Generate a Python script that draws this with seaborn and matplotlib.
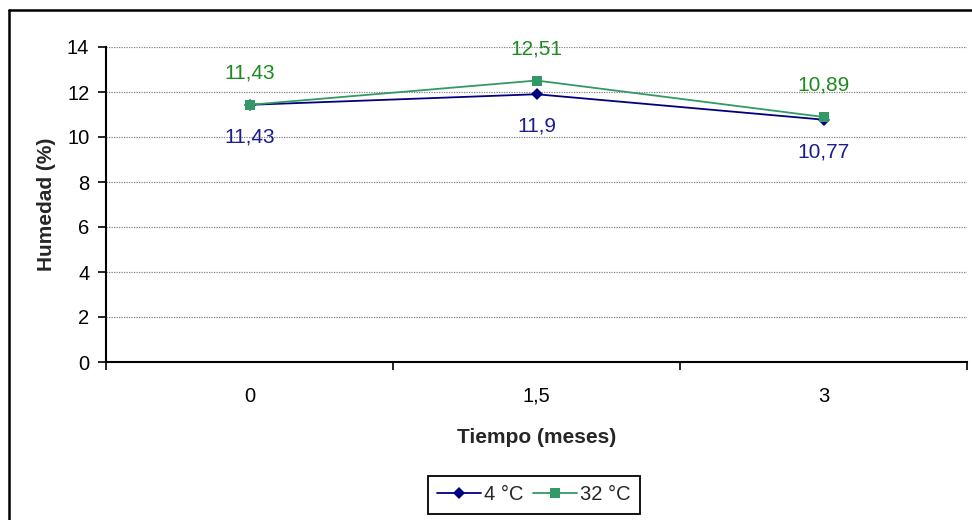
import matplotlib
matplotlib.use("Agg")
import matplotlib.pyplot as plt
from matplotlib.lines import Line2D
from matplotlib.ticker import FixedLocator
import numpy as np
import pandas as pd
import seaborn as sns

# Data
tiempo_labels = ["0", "1,5", "3"]
humedad_4c = [11.43, 11.90, 10.77]
humedad_32c = [11.43, 12.51, 10.89]
series_names = ["4 °C", "32 °C"]
y_ticks = [0, 2, 4, 6, 8, 10, 12, 14]

line_colors = {"4 °C": "#000080", "32 °C": "#339966"}
label_colors = {"4 °C": "#1c1c8e", "32 °C": "#1f8a1f"}

pos = np.arange(len(tiempo_labels))
df = pd.DataFrame({
    "pos": np.concatenate([pos, pos]),
    "humedad": humedad_4c + humedad_32c,
    "serie": [series_names[0]] * len(pos) + [series_names[1]] * len(pos),
})

sns.set_theme(style="white")
plt.rcParams["font.family"] = ["Liberation Sans", "DejaVu Sans"]

fig = plt.figure(figsize=(9.72, 5.2), dpi=100)
ax = fig.add_axes([106 / 972, 1 - 362 / 520, (967 - 106) / 972, (362 - 47) / 520])

sns.lineplot(
    data=df, x="pos", y="humedad", hue="serie", style="serie",
    hue_order=series_names, style_order=series_names,
    palette=line_colors, markers={"4 °C": "D", "32 °C": "s"}, dashes=False,
    markersize=7, linewidth=1.3, markeredgewidth=0, ax=ax, legend=False,
)
# slightly smaller diamond for the 4 °C series
ax.lines[0].set_markersize(6.5)
ax.lines[1].set_markersize(7.5)

# Value labels
for name, vals, dy in [
    ("4 °C", humedad_4c, -23),
    ("32 °C", humedad_32c, 23),
]:
    for x, v in zip(pos, vals):
        txt = f"{v:.2f}".rstrip("0").rstrip(".").replace(".", ",")
        ax.annotate(txt, (x, v), xytext=(0, dy), textcoords="offset points",
                    ha="center", va="center", fontsize=15,
                    color=label_colors[name])

# Axes styling
ax.set_xlim(-0.5, len(pos) - 0.5)
ax.set_ylim(0, 14)
ax.set_yticks(y_ticks)
ax.set_yticklabels([str(t) for t in y_ticks], fontsize=14.5)
ax.set_xticks(pos)
ax.set_xticklabels(tiempo_labels, fontsize=14.5)
ax.xaxis.set_minor_locator(FixedLocator(np.arange(-0.5, len(pos), 1.0)))
ax.tick_params(axis="x", which="major", length=0, pad=18, labelcolor="black")
ax.tick_params(axis="x", which="minor", length=6, width=1.2, direction="out",
               color="black", bottom=True)
ax.tick_params(axis="y", length=6, width=1.2, direction="out", color="black",
               left=True, pad=6, labelcolor="black")

for y in y_ticks[1:]:
    ax.axhline(y, color="#808080", linewidth=0.9, linestyle=(0, (1, 1)), zorder=0)

for side in ["top", "right"]:
    ax.spines[side].set_visible(False)
for side in ["left", "bottom"]:
    ax.spines[side].set_color("black")
    ax.spines[side].set_linewidth(1.5)

ax.set_xlabel("Tiempo (meses)", fontsize=15, fontweight="bold", labelpad=16)
ax.set_ylabel("Humedad (%)", fontsize=15, fontweight="bold", labelpad=8)

# Legend
handles = [
    Line2D([], [], color=line_colors["4 °C"], marker="D", markersize=6.5,
           markeredgewidth=0, linewidth=1.3),
    Line2D([], [], color=line_colors["32 °C"], marker="s", markersize=7.5,
           markeredgewidth=0, linewidth=1.3),
]
leg = fig.legend(handles, series_names, loc="center",
                 bbox_to_anchor=(534 / 972, 1 - 495 / 520), ncol=2,
                 fontsize=14.5, frameon=True, fancybox=False, framealpha=1,
                 edgecolor="black", handlelength=2.2, handletextpad=0.15,
                 columnspacing=0.45, borderpad=0.45, borderaxespad=0)
leg.get_frame().set_linewidth(1.3)

# Chart area border (left and top edges)
fig.add_artist(Line2D([9 / 972, 9 / 972], [0, 1 - 10 / 520],
                      color="black", linewidth=1.8, transform=fig.transFigure))
fig.add_artist(Line2D([9 / 972, 1], [1 - 10 / 520, 1 - 10 / 520],
                      color="black", linewidth=1.8, transform=fig.transFigure))

fig.savefig("out.png", dpi=100, facecolor="white")
